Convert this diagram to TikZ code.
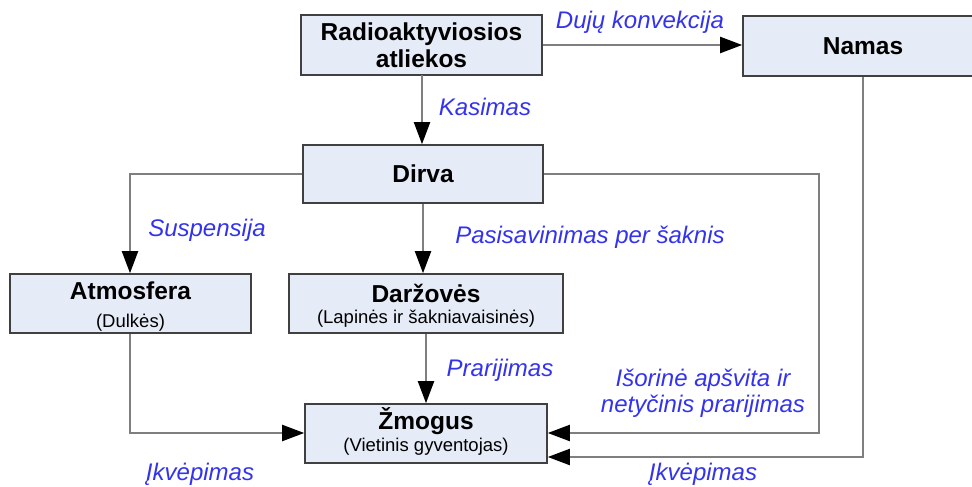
\documentclass[tikz,border=0pt]{standalone}
\usepackage{fontspec}
\setmainfont{Liberation Sans}
\usetikzlibrary{arrows.meta}
\definecolor{boxfill}{HTML}{E6ECF7}
\definecolor{boxline}{HTML}{404040}
\definecolor{conn}{HTML}{7F7F7F}
\definecolor{lbl}{HTML}{3333EE}
\tikzset{
  box/.style={draw=boxline, line width=1.6pt, fill=boxfill, rectangle, inner sep=0pt, align=center},
  big/.style={font=\fontsize{24.5}{27}\selectfont\bfseries},
  conline/.style={draw=conn, line width=2pt, -{Triangle[length=22pt,width=16pt,color=black]}},
  lab/.style={text=lbl, font=\fontsize{24}{28}\selectfont\itshape, inner sep=0pt, align=center}
}
\newcommand{\smalltxt}[1]{{\fontsize{18.5}{20}\selectfont\mdseries #1}}
\begin{document}
\begin{tikzpicture}[x=1pt,y=-1pt]
\useasboundingbox (0,0) rectangle (972,487);
\clip (0,0) rectangle (972,487);
\node[box, big, minimum width=241pt, minimum height=60pt] (rad) at (421.5,45) {Radioaktyviosios\\atliekos};
\node[box, big, minimum width=240pt, minimum height=60pt] (nam) at (863,46) {Namas};
\node[box, big, minimum width=240pt, minimum height=58pt] (dir) at (423,174) {Dirva};
\node[box, minimum width=241pt, minimum height=59pt] (atm) at (130.5,303.5) {};
\node[big] at (130.5,291) {Atmosfera};
\node at (130.5,323) {\smalltxt{(Dulkės)}};
\node[box, minimum width=274pt, minimum height=59pt] (dar) at (426,303.5) {};
\node[big] at (426,293) {Daržovės};
\node at (426,319) {\smalltxt{(Lapinės ir šakniavaisinės)}};
\node[box, minimum width=242pt, minimum height=59pt] (zmo) at (426,433.5) {};
\node[big] at (426,421) {Žmogus};
\node at (426,447) {\smalltxt{(Vietinis gyventojas)}};

\coordinate (c1) at (130,174);
\coordinate (c2) at (819,174);
\coordinate (c3) at (819,433);
\coordinate (c4) at (130,433);
\coordinate (c5) at (863,457);

\draw[conline] (rad.east |- 0,45) -- (nam.west |- 0,45);
\draw[conline] (422,75) -- (dir.north -| 422,0);
\draw[conline] (dir.west) -- (c1) -- (atm.north -| c1);
\draw[conline] (dir.south) -- (dar.north -| dir.south);
\draw[conline] (dar.south) -- (zmo.north);
\draw[conline] (atm.south -| c4) -- (c4) -- (zmo.west |- c4);
\draw[conline] (dir.east |- c2) -- (c2) -- (c3) -- (zmo.east |- c3);
\draw[conline] (nam.south -| c5) -- (c5) -- (zmo.east |- c5);

\node[lab] at (640,22) {Dujų konvekcija};
\node[lab] at (485,107) {Kasimas};
\node[lab] at (207,230) {Suspensija};
\node[lab] at (590,237) {Pasisavinimas per šaknis};
\node[lab] at (500,370) {Prarijimas};
\node[lab, font=\fontsize{24}{26}\selectfont\itshape] at (703,393) {Išorinė apšvita ir\\netyčinis prarijimas};
\node[lab] at (200,474) {Įkvėpimas};
\node[lab] at (703,474) {Įkvėpimas};
\end{tikzpicture}
\end{document}
